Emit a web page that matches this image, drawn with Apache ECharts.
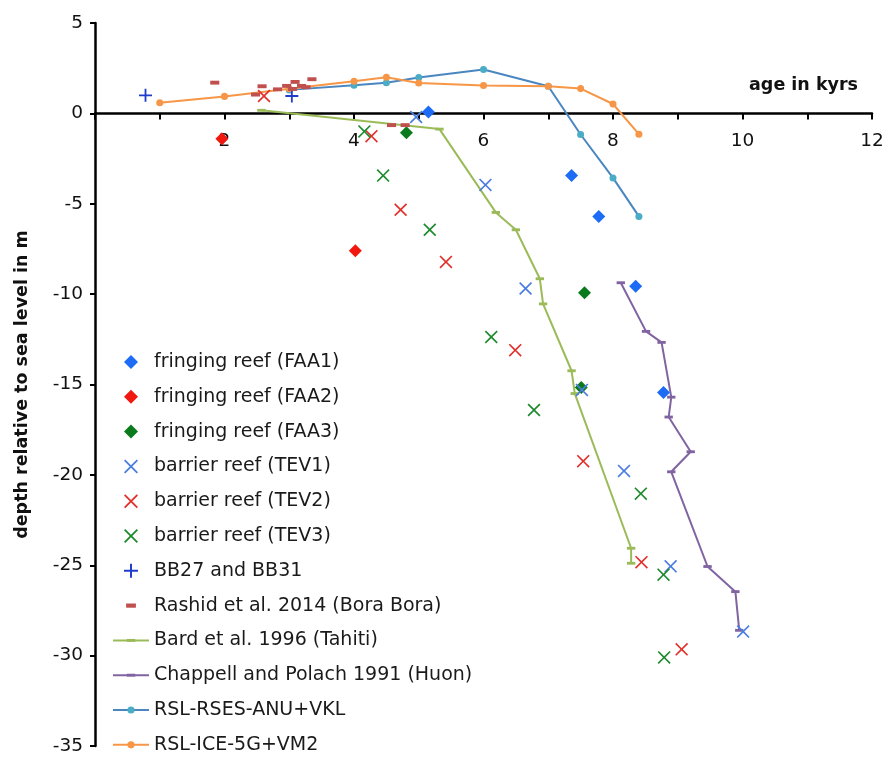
<!DOCTYPE html>
<html>
<head>
<meta charset="utf-8">
<script src="https://cdn.jsdelivr.net/npm/echarts@6/dist/echarts.min.js"></script>
<style>html,body{margin:0;padding:0;background:#fff}#c{width:885px;height:758px}</style>
</head>
<body>
<div id="c"></div>
<script>
// ---- data (age in kyrs, depth in m) ----
const seriesNames = [
  'fringing reef (FAA1)', 'fringing reef (FAA2)', 'fringing reef (FAA3)',
  'barrier reef (TEV1)', 'barrier reef (TEV2)', 'barrier reef (TEV3)',
  'BB27 and BB31', 'Rashid et al. 2014 (Bora Bora)',
  'Bard et al. 1996 (Tahiti)', 'Chappell and Polach 1991 (Huon)',
  'RSL-RSES-ANU+VKL', 'RSL-ICE-5G+VM2'
];
const faa1 = [[5.15,0.07],[7.36,-3.44],[7.78,-5.7],[8.35,-9.56],[8.78,-15.44]];
const faa2 = [[1.96,-1.41],[4.02,-7.6]];
const faa3 = [[4.81,-1.07],[7.56,-9.93],[7.51,-15.17]];
const tev1 = [[4.96,-0.2],[6.03,-3.96],[6.65,-9.69],[7.52,-15.3],[8.17,-19.78],[8.89,-25.06],[10.01,-28.67]];
const tev2 = [[2.61,0.96],[4.27,-1.26],[4.72,-5.33],[5.42,-8.22],[6.49,-13.1],[7.54,-19.24],[8.44,-24.83],[9.06,-29.65]];
const tev3 = [[4.16,-1.0],[4.45,-3.44],[5.17,-6.44],[6.12,-12.37],[6.78,-16.41],[8.43,-21.04],[8.78,-25.52],[8.79,-30.1]];
const bb = [[0.78,1.0],[3.04,0.96]];
const rashid = [[1.85,1.7],[2.48,1.04],[2.58,1.5],[2.82,1.33],[2.96,1.52],[3.05,1.35],[3.09,1.74],[3.19,1.52],[3.26,1.45],[3.35,1.89],[4.58,-0.65],[4.79,-0.65]];
const bard = [[2.57,0.17],[5.32,-0.87],[6.19,-5.48],[6.5,-6.44],[6.87,-9.15],[6.92,-10.54],[7.36,-14.24],[7.41,-15.5],[8.28,-24.06],[8.28,-24.89]];
const chappell = [[8.12,-9.37],[8.51,-12.06],[8.75,-12.67],[8.9,-15.7],[8.86,-16.8],[9.2,-18.72],[8.9,-19.83],[9.46,-25.07],[9.89,-26.46],[9.95,-28.6]];
const rslAnu = [[3.0,1.3],[4.0,1.56],[4.5,1.7],[5.0,1.98],[6.0,2.43],[7.0,1.5],[7.5,-1.17],[8.0,-3.57],[8.4,-5.7]];
const rslIce = [[1.0,0.59],[2.0,0.94],[3.0,1.36],[4.0,1.78],[4.5,2.0],[5.0,1.68],[6.0,1.54],[7.0,1.5],[7.5,1.37],[8.0,0.52],[8.4,-1.15]];
const xLabelValues = [2, 4, 6, 8, 10, 12];

// ---- symbols ----
const DIAM = 'path://M50,0 L100,50 L50,100 L0,50 Z';
const XSYM = 'path://M0,9 L9,0 L50,41 L91,0 L100,9 L59,50 L100,91 L91,100 L50,59 L9,100 L0,91 L41,50 Z';
const PLUS = 'path://M43,0 L57,0 L57,43 L100,43 L100,57 L57,57 L57,100 L43,100 L43,57 L0,57 L0,43 L43,43 Z';
const DASH = 'path://M0,0 M100,100 M15,35 L85,35 L85,65 L15,65 Z';
const LDASH = 'path://M0,0 M100,100 M12,37 L88,37 L88,63 L12,63 Z';
const CIRC = 'path://M0,0 M100,100 M18,50 A32,32 0 1,1 82,50 A32,32 0 1,1 18,50 Z';

const FONT = 'DejaVu Sans';
const GRID = { left: 95, right: 13, top: 23, bottom: 12 };
const H = 758;
// pixel row of depth 0 inside the grid (5 m above, 35 m below)
const zeroOffset = -((H - GRID.top - GRID.bottom) * 35 / 40);

function scatter(name, data, symbol, size, color) {
  return { type: 'scatter', name, data, symbol, symbolSize: size,
           itemStyle: { color, opacity: 1 }, z: 3 };
}
function line(name, data, symbol, size, lineColor, markColor) {
  return { type: 'line', name, data, symbol, symbolSize: size, showSymbol: true,
           lineStyle: { color: lineColor, width: 2 },
           itemStyle: { color: markColor },
           z: 2 };
}

const series = [
  scatter(seriesNames[0], faa1, DIAM, 13, '#1c6cf5'),
  scatter(seriesNames[1], faa2, DIAM, 13, '#f0180f'),
  scatter(seriesNames[2], faa3, DIAM, 13, '#0b7a1c'),
  scatter(seriesNames[3], tev1, XSYM, 13, '#4a7de0'),
  scatter(seriesNames[4], tev2, XSYM, 13, '#e2302a'),
  scatter(seriesNames[5], tev3, XSYM, 13, '#1d8a2e'),
  scatter(seriesNames[6], bb, PLUS, 13, '#1f3ccc'),
  scatter(seriesNames[7], rashid, DASH, 13, '#c0504d'),
  line(seriesNames[8], bard, LDASH, 11, '#9bbb59', '#9bbb59'),
  line(seriesNames[9], chappell, LDASH, 11, '#8064a2', '#8064a2'),
  line(seriesNames[10], rslAnu, CIRC, 11, '#4a86c0', '#4bacc6'),
  line(seriesNames[11], rslIce, CIRC, 11, '#f79646', '#f79646')
];

const chart = echarts.init(document.getElementById('c'), null, { renderer: 'canvas' });
chart.setOption({
  animation: false,
  backgroundColor: '#ffffff',
  grid: Object.assign({ containLabel: false, outerBoundsMode: 'none' }, GRID),
  xAxis: {
    type: 'value', min: 0, max: 12, interval: 1, position: 'bottom',
    offset: zeroOffset,
    axisLine: { onZero: false, lineStyle: { color: '#000', width: 2.5 } },
    axisTick: { show: true, length: 6, lineStyle: { color: '#000', width: 2 } },
    axisLabel: {
      margin: 18, fontSize: 18.5, fontFamily: FONT, color: '#111',
      formatter: v => (xLabelValues.indexOf(v) >= 0 ? String(v) : '')
    },
    splitLine: { show: false }
  },
  yAxis: {
    type: 'value', min: -35, max: 5, interval: 5,
    name: 'depth relative to sea level in m', nameLocation: 'middle', nameGap: 64,
    nameTextStyle: { fontSize: 17.5, fontWeight: 'bold', fontFamily: FONT, color: '#111' },
    axisLine: { onZero: false, lineStyle: { color: '#000', width: 2.5 } },
    axisTick: { show: true, length: 5, lineStyle: { color: '#000', width: 2 } },
    axisLabel: { margin: 12, fontSize: 18.5, fontFamily: FONT, color: '#111' },
    splitLine: { show: false }
  },
  legend: {
    data: seriesNames, orient: 'vertical', left: 112, top: 352, padding: 0,
    itemWidth: 36, itemHeight: 14, itemGap: 14.8, selectedMode: false,
    textStyle: { fontSize: 19, fontFamily: FONT, color: '#1a1a1a', lineHeight: 20 }
  },
  graphic: [{
    type: 'text', x: 858, y: 85,
    style: { text: 'age in kyrs', align: 'right', verticalAlign: 'middle',
             fontSize: 17.5, fontWeight: 'bold', fontFamily: FONT, fill: '#111' }
  }],
  series
});
</script>
</body>
</html>
